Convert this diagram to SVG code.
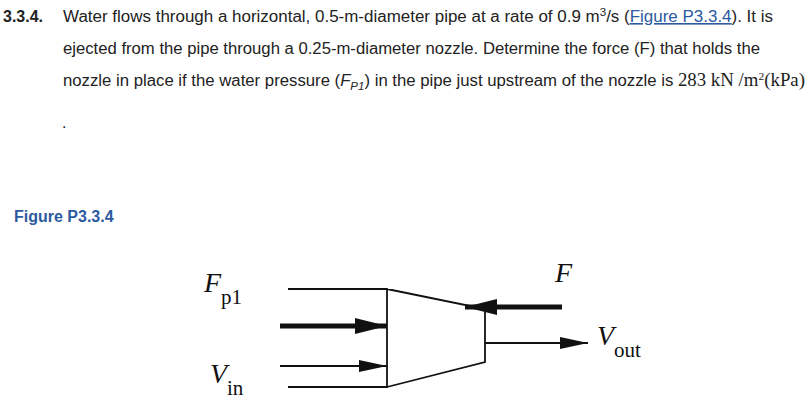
<svg xmlns="http://www.w3.org/2000/svg" width="808" height="410" viewBox="0 0 808 410">
<defs>
<style>
.t{font-family:"Liberation Sans",Arial,sans-serif;font-size:16px;fill:#222}
.s{font-family:"Liberation Serif","Times New Roman",serif;fill:#111}
.ln{stroke:#111;fill:none;stroke-width:1.8}
</style>
<marker id="ahb" viewBox="0 0 10 10" refX="10" refY="5" markerWidth="32" markerHeight="16" orient="auto" markerUnits="userSpaceOnUse" preserveAspectRatio="none"><path d="M0,0L10,5L0,10z" fill="#111"/></marker>
<marker id="ahs" viewBox="0 0 10 10" refX="10" refY="5" markerWidth="28" markerHeight="12" orient="auto" markerUnits="userSpaceOnUse" preserveAspectRatio="none"><path d="M0,0L10,5L0,10z" fill="#111"/></marker>
</defs>
<rect width="808" height="410" fill="#fff"/>
<text class="t" x="3" y="22" font-weight="bold">3.3.4.</text>
<text class="t" x="63" y="22" textLength="710" lengthAdjust="spacingAndGlyphs">Water flows through a horizontal, 0.5-m-diameter pipe at a rate of 0.9 m<tspan dy="-6" font-size="11">3</tspan><tspan dy="6">/s (</tspan><tspan fill="#2c5aa0" text-decoration="underline">Figure P3.3.4</tspan><tspan>). It is</tspan></text>
<text class="t" x="63" y="54" textLength="697" lengthAdjust="spacingAndGlyphs">ejected from the pipe through a 0.25-m-diameter nozzle. Determine the force (F) that holds the</text>
<text class="t" x="63" y="86" textLength="742" lengthAdjust="spacingAndGlyphs">nozzle in place if the water pressure (<tspan font-style="italic">F</tspan><tspan font-style="italic" font-size="11" dy="4">P1</tspan><tspan dy="-4">) in the pipe just upstream of the nozzle is </tspan><tspan font-family="Liberation Serif,serif" font-size="18">283 kN /m</tspan><tspan font-family="Liberation Serif,serif" font-size="11" dy="-6">2</tspan><tspan font-family="Liberation Serif,serif" font-size="18" dy="6">(kPa)</tspan></text>
<text class="t" x="62" y="128">.</text>
<text class="t" x="14" y="222" font-weight="bold" style="fill:#2c5aa0">Figure P3.3.4</text>
<g id="nozzle">
<path class="ln" d="M288,289H387V387H288M387,289L485,309V362L387,387"/>
</g>
<g id="connectors">
<line x1="280" y1="326" x2="387" y2="326" stroke="#111" stroke-width="5" marker-end="url(#ahb)"/>
<line x1="280" y1="366" x2="387" y2="366" stroke="#111" stroke-width="1.8" marker-end="url(#ahs)"/>
<line x1="562" y1="307" x2="465" y2="307" stroke="#111" stroke-width="5" marker-end="url(#ahb)"/>
<line x1="485" y1="343" x2="588" y2="343" stroke="#111" stroke-width="1.8" marker-end="url(#ahs)"/>
</g>
<g id="labels">
<text class="s" x="204" y="292" font-size="28" font-style="italic">F</text><text class="s" x="221" y="304" font-size="21">p1</text>
<text class="s" x="210" y="383" font-size="28" font-style="italic">V</text><text class="s" x="227" y="395" font-size="21">in</text>
<text class="s" x="555" y="282" font-size="28" font-style="italic">F</text>
<text class="s" x="597" y="345" font-size="28" font-style="italic">V</text><text class="s" x="614" y="357" font-size="21">out</text>
</g>
</svg>
